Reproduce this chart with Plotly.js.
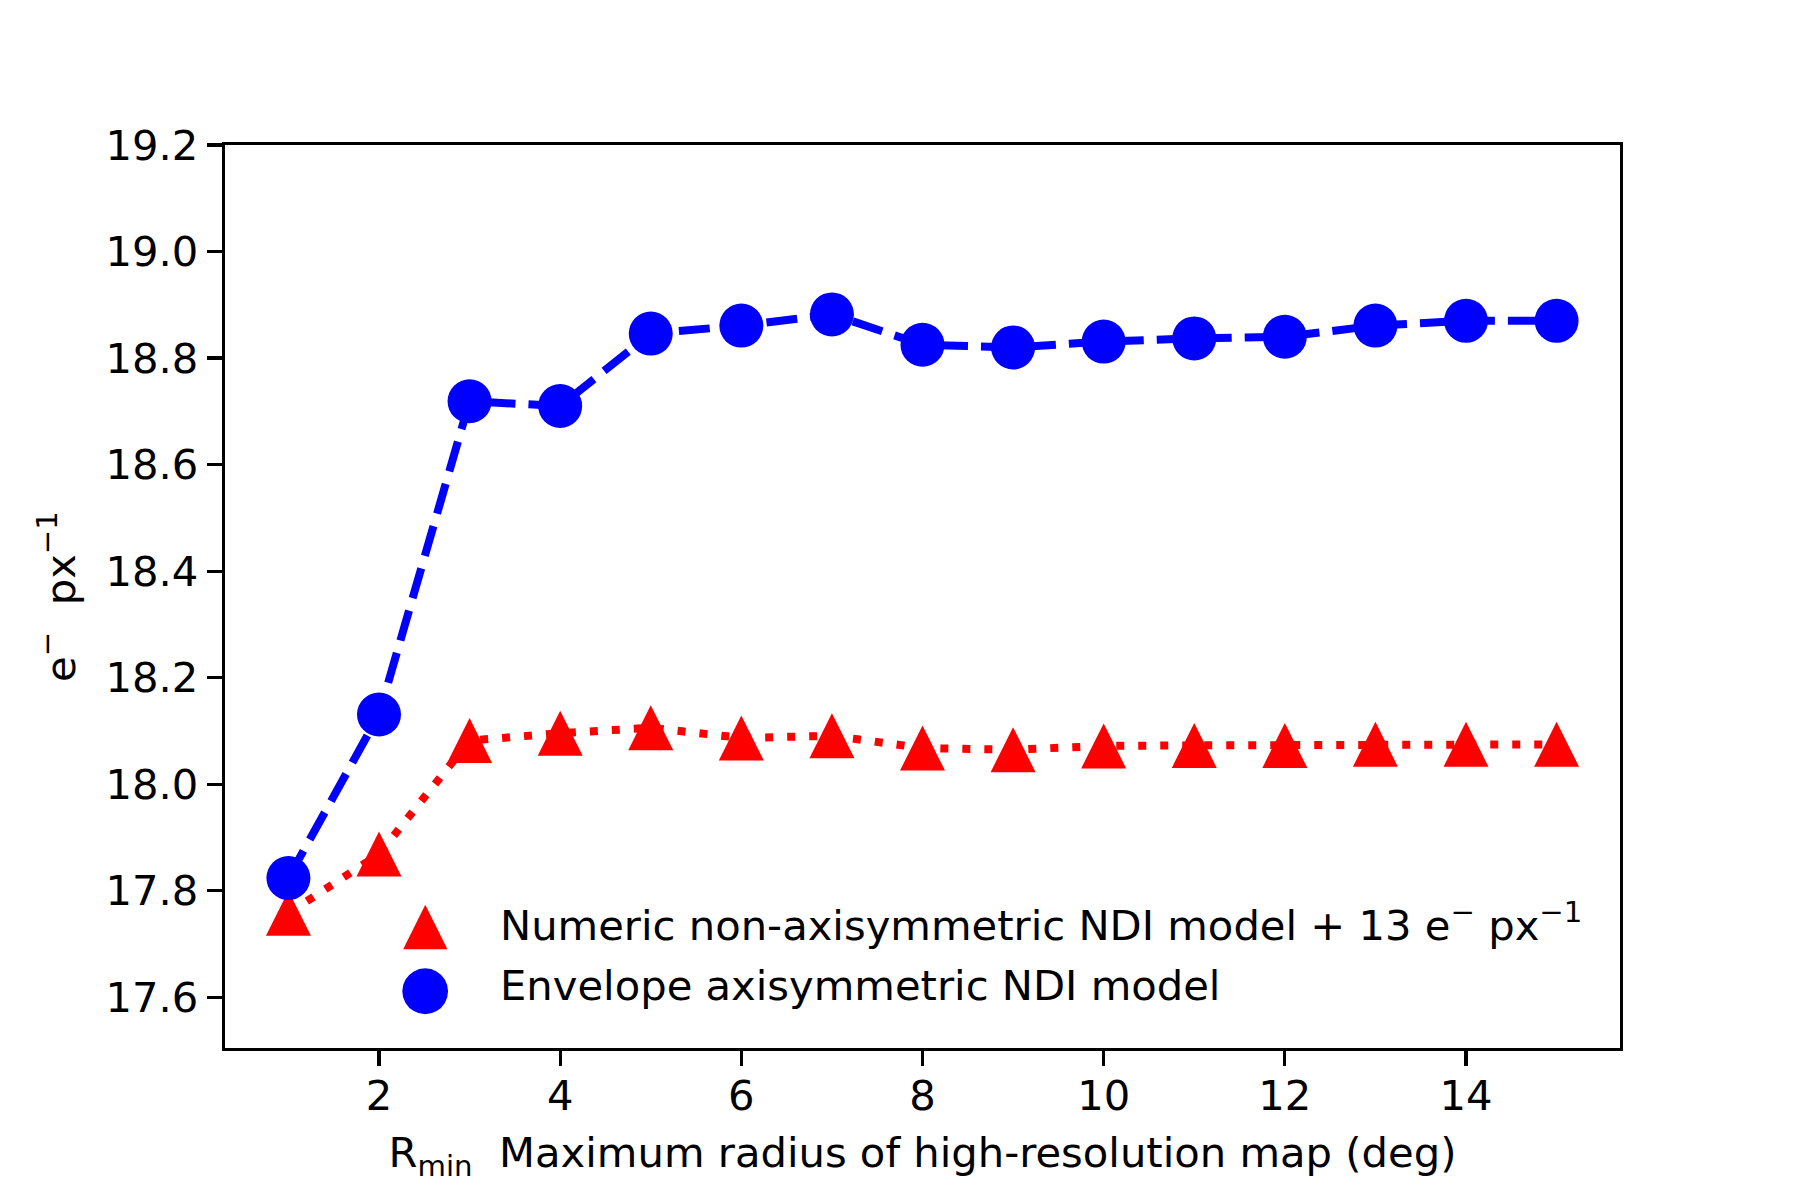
<!DOCTYPE html>
<html>
<head>
<meta charset="utf-8">
<script src="https://cdn.plot.ly/plotly-3.0.1.min.js"></script>
<style>html,body{margin:0;padding:0;background:#fff;}</style>
</head>
<body>
<div id="chart" style="width:1800px;height:1200px;"></div>
<script>
const rMin = [1, 2, 3, 4, 5, 6, 7, 8, 9, 10, 11, 12, 13, 14, 15];
const numericNonAxisym = [17.758, 17.869, 18.082, 18.096, 18.106, 18.087, 18.091, 18.068, 18.065, 18.072, 18.073, 18.073, 18.075, 18.075, 18.075];
const envelopeAxisym = [17.824, 18.131, 18.719, 18.710, 18.846, 18.861, 18.882, 18.825, 18.820, 18.831, 18.837, 18.840, 18.861, 18.870, 18.870];
const seriesNames = ['Numeric non-axisymmetric NDI model + 13 e<sup>\u2212</sup> px<sup>\u22121</sup>', 'Envelope axisymmetric NDI model'];
const xTicks = [2, 4, 6, 8, 10, 12, 14];
const yTicks = [17.6, 17.8, 18.0, 18.2, 18.4, 18.6, 18.8, 19.0, 19.2];

const FONT = 'DejaVu Sans, sans-serif';
const FS = 41.7;
const triSize = 45;

const traces = [
  {
    x: rMin, y: numericNonAxisym, name: seriesNames[0], type: 'scatter', mode: 'lines+markers',
    line: {color: '#ff0000', width: 8, dash: '8px,14px'},
    marker: {symbol: 'arrow-down', angle: 180, standoff: triSize / 2, size: triSize, color: '#ff0000', line: {width: 0}},
    showlegend: false, cliponaxis: false
  },
  {
    x: rMin, y: envelopeAxisym, name: seriesNames[1], type: 'scatter', mode: 'lines+markers',
    line: {color: '#0000ff', width: 8, dash: '31px,13px'},
    marker: {symbol: 'circle', size: 44, color: '#0000ff', line: {width: 0}},
    showlegend: false, cliponaxis: false
  }
];

const axisCommon = {
  showline: true, linecolor: '#000', linewidth: 3.3, mirror: true,
  ticks: 'outside', ticklen: 15, tickwidth: 3.3, tickcolor: '#000',
  showgrid: false, zeroline: false,
  tickfont: {family: FONT, size: FS, color: '#000'}
};

const layout = {
  width: 1800, height: 1200,
  paper_bgcolor: '#fff', plot_bgcolor: '#fff',
  margin: {l: 225, r: 180, t: 145, b: 152, autoexpand: false},
  showlegend: false,
  font: {family: FONT, color: '#000'},
  xaxis: Object.assign({}, axisCommon, {
    range: [0.3, 15.7], tickmode: 'array', tickvals: xTicks, ticktext: xTicks.map(String),
    ticklabelstandoff: -6,
    title: {text: 'R<sub>min</sub>&nbsp; Maximum radius of high-resolution map (deg)', font: {family: FONT, size: FS, color: '#000'}, standoff: 19}
  }),
  yaxis: Object.assign({}, axisCommon, {
    range: [17.505, 19.2], tickmode: 'array', tickvals: yTicks, ticktext: yTicks.map(v => v.toFixed(1)),
    title: {text: 'e<sup>\u2212</sup>&nbsp; px<sup>\u22121</sup>', font: {family: FONT, size: FS, color: '#000'}, standoff: 18}
  }),
  annotations: [
    {xref: 'paper', yref: 'paper', x: 0.1434, y: 0.1396, text: '\u25B2', showarrow: false, xanchor: 'center', yanchor: 'middle', font: {family: FONT, size: 58, color: '#ff0000'}},
    {xref: 'paper', yref: 'paper', x: 0.1434, y: 0.0689, text: '\u25CF', showarrow: false, xanchor: 'center', yanchor: 'middle', font: {family: FONT, size: 60, color: '#0000ff'}},
    {xref: 'paper', yref: 'paper', x: 0.196, y: 0.1392, text: seriesNames[0], showarrow: false, xanchor: 'left', yanchor: 'middle', font: {family: FONT, size: FS, color: '#000'}},
    {xref: 'paper', yref: 'paper', x: 0.196, y: 0.0689, text: seriesNames[1], showarrow: false, xanchor: 'left', yanchor: 'middle', font: {family: FONT, size: FS, color: '#000'}}
  ]
};

Plotly.newPlot('chart', traces, layout, {displayModeBar: false, staticPlot: true});
</script>
</body>
</html>
